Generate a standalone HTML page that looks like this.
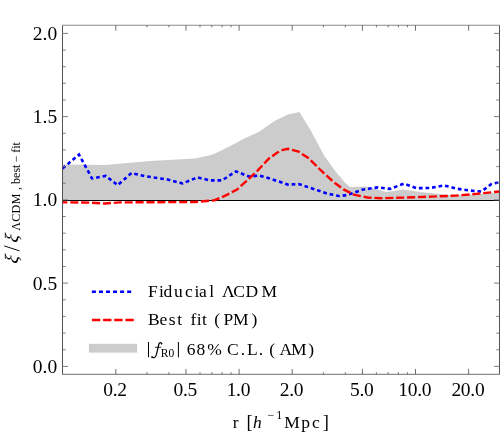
<!DOCTYPE html>
<html><head><meta charset="utf-8"><style>
html,body{margin:0;padding:0;background:#fff}
svg{display:block;will-change:transform}
text{font-family:"Liberation Serif",serif;fill:#000}
.t{font-size:19.5px}
.l{font-size:17px}
</style></head><body>
<svg width="500" height="432" viewBox="0 0 500 432">
<rect width="500" height="432" fill="#fff"/>
<polygon points="62.5,164.5 105.0,165.0 150.0,161.0 195.0,158.5 210.0,155.2 214.6,153.8 225.8,148.2 237.0,142.6 244.4,138.6 259.5,131.5 274.5,121.0 288.0,114.4 299.4,112.0 310.5,130.0 324.0,155.5 336.0,172.0 345.0,182.8 350.0,187.0 366.0,186.6 376.0,189.0 386.0,192.0 394.0,191.0 403.0,189.6 410.0,190.4 420.0,192.0 430.0,193.0 440.0,194.0 452.0,195.3 468.0,194.8 484.0,193.7 499.5,192.3 499.5,200.5 62.5,200.5" fill="#cccccc"/>
<line x1="62.5" y1="200.5" x2="499.5" y2="200.5" stroke="#000" stroke-width="1.15"/>
<polyline points="62.5,168.4 79.0,154.6 92.0,178.4 105.8,175.9 117.6,185.2 131.5,173.0 145.0,176.2 167.5,179.5 182.5,183.4 197.5,177.4 210.0,180.4 222.0,180.4 236.0,171.4 249.0,176.5 259.5,175.6 270.0,178.6 288.0,184.6 298.5,184.0 315.0,189.4 327.0,193.6 339.0,196.0 345.0,195.4 353.8,192.9 362.0,189.8 377.6,187.4 390.0,188.9 403.8,183.7 416.5,188.2 430.0,188.0 444.0,185.4 457.5,188.8 469.5,190.5 481.4,191.5 491.5,184.0 499.5,182.3" fill="none" stroke="#0000ff" stroke-width="2.6" stroke-dasharray="3.7 2.9"/>
<polyline points="62.5,202.3 90.0,202.6 105.0,203.5 120.0,202.4 160.0,202.2 195.0,202.0 214.6,200.2 225.8,195.4 237.0,189.6 246.6,180.8 257.8,170.4 269.0,158.4 277.0,152.8 283.0,149.8 288.0,148.8 298.5,151.6 309.0,158.5 321.0,170.5 333.0,181.6 343.5,189.4 353.8,194.6 367.4,197.5 381.0,198.2 404.8,197.6 432.0,196.6 455.8,195.6 476.0,193.9 499.5,191.5" fill="none" stroke="#ff0000" stroke-width="2.4" stroke-dasharray="8.1 2.8" stroke-dashoffset="3.2"/>
<path d="M62.5 25.25V374.4M499.5 25.25V374.4" stroke="#555" stroke-width="1" fill="none"/>
<path d="M62.0 25.25H500.0M62.0 374.4H500.0" stroke="#8c8c8c" stroke-width="1.2" fill="none"/>
<path d="M115.8 374.4v-5.5M115.8 25.25v5.5M186.0 374.4v-5.5M186.0 25.25v5.5M239.1 374.4v-5.5M239.1 25.25v5.5M292.2 374.4v-5.5M292.2 25.25v5.5M362.4 374.4v-5.5M362.4 25.25v5.5M415.5 374.4v-5.5M415.5 25.25v5.5M468.6 374.4v-5.5M468.6 25.25v5.5M146.9 374.4v-2.1M146.9 25.25v2.1M168.9 374.4v-2.1M168.9 25.25v2.1M200.0 374.4v-2.1M200.0 25.25v2.1M211.8 374.4v-2.1M211.8 25.25v2.1M222.0 374.4v-2.1M222.0 25.25v2.1M231.0 374.4v-2.1M231.0 25.25v2.1M323.3 374.4v-2.1M323.3 25.25v2.1M345.3 374.4v-2.1M345.3 25.25v2.1M376.4 374.4v-2.1M376.4 25.25v2.1M388.2 374.4v-2.1M388.2 25.25v2.1M398.4 374.4v-2.1M398.4 25.25v2.1M407.4 374.4v-2.1M407.4 25.25v2.1" stroke="#555" stroke-width="0.85" fill="none"/>
<path d="M62.5 366.4h5.5M499.5 366.4h-5.5M62.5 349.8h3.2M499.5 349.8h-3.2M62.5 333.1h3.2M499.5 333.1h-3.2M62.5 316.4h3.2M499.5 316.4h-3.2M62.5 299.8h3.2M499.5 299.8h-3.2M62.5 283.1h5.5M499.5 283.1h-5.5M62.5 266.5h3.2M499.5 266.5h-3.2M62.5 249.8h3.2M499.5 249.8h-3.2M62.5 233.2h3.2M499.5 233.2h-3.2M62.5 216.5h3.2M499.5 216.5h-3.2M62.5 199.9h5.5M499.5 199.9h-5.5M62.5 183.2h3.2M499.5 183.2h-3.2M62.5 166.6h3.2M499.5 166.6h-3.2M62.5 149.9h3.2M499.5 149.9h-3.2M62.5 133.3h3.2M499.5 133.3h-3.2M62.5 116.6h5.5M499.5 116.6h-5.5M62.5 100.0h3.2M499.5 100.0h-3.2M62.5 83.3h3.2M499.5 83.3h-3.2M62.5 66.7h3.2M499.5 66.7h-3.2M62.5 50.1h3.2M499.5 50.1h-3.2M62.5 33.4h5.5M499.5 33.4h-5.5" stroke="#6e6e6e" stroke-width="0.9" fill="none"/>
<text x="115.1" y="396.0" text-anchor="middle" class="t" letter-spacing="-0.3">0.2</text>
<text x="185.3" y="396.0" text-anchor="middle" class="t" letter-spacing="-0.3">0.5</text>
<text x="238.4" y="396.0" text-anchor="middle" class="t" letter-spacing="-0.3">1.0</text>
<text x="291.5" y="396.0" text-anchor="middle" class="t" letter-spacing="-0.3">2.0</text>
<text x="361.7" y="396.0" text-anchor="middle" class="t" letter-spacing="-0.3">5.0</text>
<text x="414.8" y="396.0" text-anchor="middle" class="t" letter-spacing="-0.3">10.0</text>
<text x="467.9" y="396.0" text-anchor="middle" class="t" letter-spacing="-0.3">20.0</text>
<text x="57.2" y="372.9" text-anchor="end" class="t">0.0</text>
<text x="57.2" y="289.6" text-anchor="end" class="t">0.5</text>
<text x="57.2" y="206.4" text-anchor="end" class="t">1.0</text>
<text x="57.2" y="123.1" text-anchor="end" class="t">1.5</text>
<text x="57.2" y="39.9" text-anchor="end" class="t">2.0</text>
<line x1="91.9" y1="291.7" x2="131.3" y2="291.7" stroke="#0000ff" stroke-width="2.4" stroke-dasharray="4 3.05"/>
<line x1="91.9" y1="320.0" x2="133.8" y2="320.0" stroke="#ff0000" stroke-width="2.4" stroke-dasharray="8.4 2.75"/>
<rect x="88.9" y="343.8" width="48.2" height="8.8" fill="#cccccc"/>
<text y="297.4" font-size="17.5"><tspan x="148.10">F</tspan><tspan x="159.03">i</tspan><tspan x="163.57">d</tspan><tspan x="174.07">u</tspan><tspan x="184.93">c</tspan><tspan x="194.53">i</tspan><tspan x="199.08">a</tspan><tspan x="209.35">l</tspan><tspan x="221.93">Λ</tspan><tspan x="233.28">C</tspan><tspan x="245.50">D</tspan><tspan x="261.50">M</tspan></text>
<text y="325.4" font-size="17.5"><tspan x="148.10">B</tspan><tspan x="159.52">e</tspan><tspan x="168.68">s</tspan><tspan x="177.23">t</tspan><tspan x="190.46">f</tspan><tspan x="196.63">i</tspan><tspan x="202.03">t</tspan><tspan x="214.23">(</tspan><tspan x="223.50">P</tspan><tspan x="233.10">M</tspan><tspan x="251.44">)</tspan></text>
<text y="354.8" font-size="17.5"><tspan x="186.65">6</tspan><tspan x="196.53">8</tspan><tspan x="207.20">%</tspan><tspan x="227.08">C</tspan><tspan x="240.85">.</tspan><tspan x="247.10">L</tspan><tspan x="258.85">.</tspan><tspan x="269.23">(</tspan><tspan x="279.43">A</tspan><tspan x="291.10">M</tspan><tspan x="308.24">)</tspan></text>
<text y="357.1" font-size="11.5"><tspan x="160.67">R</tspan><tspan x="168.56">0</tspan></text>
<path d="M148.5 342v15.3M178.4 342v15.3" stroke="#000" stroke-width="1"/>
<path d="M161.7 343.7C161.3 342.4 160.0 342.0 159.2 343.4C158.3 345.0 157.6 350.6 156.3 354.9C155.5 357.5 153.6 358.4 151.9 357.1" fill="none" stroke="#000" stroke-width="1.2" stroke-linecap="round"/>
<path d="M154.9 347.3H161.2" fill="none" stroke="#000" stroke-width="0.8"/>
<circle cx="161.6" cy="343.8" r="0.8"/><circle cx="152.0" cy="357.0" r="0.8"/>
<text y="427.6" font-size="17.5"><tspan x="232.85">r</tspan><tspan x="284.30">M</tspan><tspan x="301.32">p</tspan><tspan x="311.93">c</tspan></text>
<text y="428.2" font-size="18.5"><tspan x="246.53">[</tspan><tspan x="322.83">]</tspan></text>
<text y="427.6" font-size="17.5" font-style="italic"><tspan x="252.97">h</tspan></text>
<text y="419.3" font-size="12"><tspan x="267.40">−</tspan><tspan x="276.15">1</tspan></text>
<g transform="translate(0,262) rotate(-90)"><g transform="translate(-2.3,17.9) skewX(-11)"><text x="0" y="0" font-size="19" font-style="italic">ξ</text></g><g transform="translate(18.8,17.9) skewX(-11)"><text x="0" y="0" font-size="19" font-style="italic">ξ</text></g><text x="31.18" y="19.9" font-size="12" letter-spacing="0.37">ΛCDM</text><text x="72.04" y="19.9" font-size="12">,</text><text x="78.10" y="19.9" font-size="12">best</text><text x="99.70" y="19.9" font-size="12">−</text><text x="109.23" y="19.9" font-size="12">fit</text></g>
<line x1="19.6" y1="250.9" x2="4.2" y2="245.9" stroke="#000" stroke-width="0.95"/>
</svg></body></html>
